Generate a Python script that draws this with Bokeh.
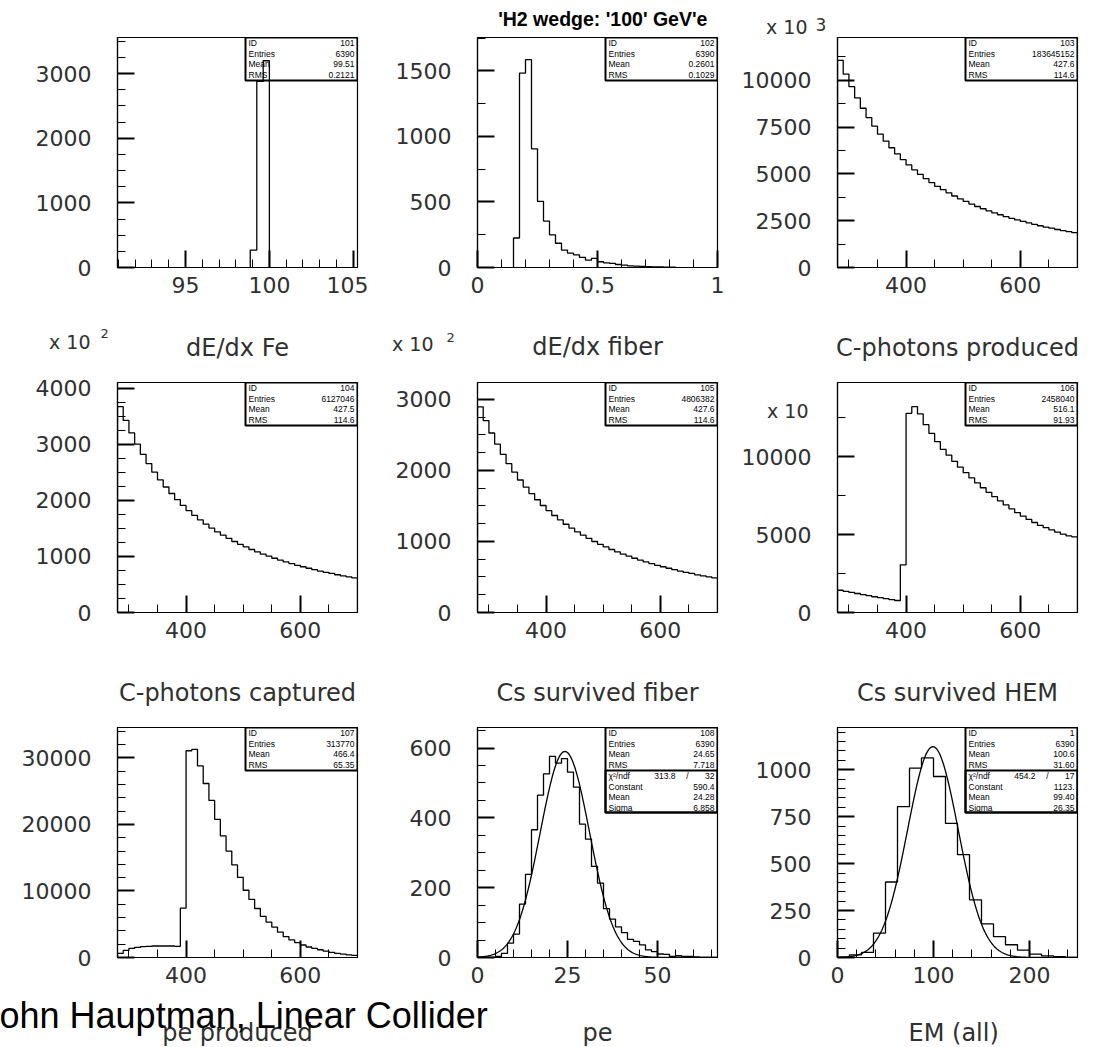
import numpy as np
from bokeh.plotting import figure
from bokeh.models import (Range1d, Label, SingleIntervalTicker, CustomJSTickFormatter,
                          BoxAnnotation)
from bokeh.layouts import row, column
from bokeh.embed import file_html
from bokeh.resources import INLINE

# ------------------------------------------------------------------ data
main_title = "'H2 wedge:  '100' GeV'e"
footer = "John Hauptman, Linear Collider"

titles = ["dE/dx Fe", "dE/dx fiber", "C-photons produced",
          "C-photons captured", "Cs survived fiber", "Cs survived HEM",
          "pe produced", "pe", "EM  (all)"]

# histogram 101 (edges)
h101_edges = [98.86, 99.25, 99.63, 100.0]
h101_counts = [270, 2880, 3200]

# histogram 102 : bins of 0.025 starting at 0.15
h102_lo, h102_w = 0.15, 0.025
h102_counts = [225, 1482, 1585, 905, 505, 354, 249, 185, 133, 110, 97, 77, 56, 69,
               44, 36, 31, 23, 18, 13, 10, 8, 7, 5, 4, 3, 2]

# wavelength histograms : bins of 10 from 280 to 700
wl_lo, wl_w = 280, 10
h103_counts = [11070, 10330, 9660, 9060, 8510, 8010, 7550, 7130, 6750, 6400, 6070, 5760,
               5480, 5220, 4980, 4750, 4540, 4340, 4160, 3990, 3820, 3670, 3530, 3390,
               3260, 3140, 3030, 2920, 2820, 2720, 2630, 2540, 2460, 2380, 2300, 2230,
               2160, 2100, 2030, 1970, 1920, 1860]            # x 10^3
h104_counts = [3675, 3429, 3207, 3008, 2825, 2659, 2506, 2367, 2241, 2125, 2015, 1912,
               1819, 1733, 1653, 1577, 1507, 1441, 1381, 1325, 1268, 1218, 1172, 1125,
               1082, 1042, 1006, 969, 936, 903, 873, 843, 817, 790, 764, 740, 717, 697,
               674, 654, 637, 617]                              # x 10^2
h105_counts = [2897, 2703, 2528, 2371, 2227, 2096, 1976, 1866, 1766, 1675, 1588, 1507,
               1434, 1366, 1303, 1243, 1188, 1136, 1089, 1044, 1000, 960, 924, 887, 853,
               822, 793, 764, 738, 712, 688, 665, 644, 623, 603, 584, 565, 550, 531, 516,
               503, 487]                                        # x 10^2
h106_counts = [1430, 1360, 1290, 1220, 1150, 1080, 1010, 950, 890, 830, 770, 3060,
               12790, 13220, 12750, 12060, 11500, 10970, 10480, 10100, 9700, 9330, 8980,
               8640, 8320, 8010, 7720, 7440, 7170, 6910, 6660, 6420, 6190, 5980, 5780,
               5590, 5450, 5300, 5160, 5030, 4920, 4860]        # x 10
h107_counts = [609, 1066, 1371, 1523, 1624, 1675, 1726, 1726, 1726, 1726, 1675, 7411,
               31066, 31269, 28782, 26142, 23604, 20761, 18274, 15990, 13909, 12030,
               10102, 8731, 7360, 6193, 5330, 4569, 3807, 3147, 2640, 2234, 1878, 1574,
               1371, 1168, 964, 761, 609, 508, 406, 305]

# histogram 108 : 40 bins from 0 to 66.67
h108_lo, h108_w = 0.0, 200.0 / 3 / 40
h108_counts = [0, 0, 0, 3, 12, 41, 67, 153, 238, 366, 465, 526, 576, 557, 570, 531, 488,
               382, 339, 261, 213, 140, 110, 88, 71, 52, 46, 36, 22, 17, 10, 9, 3, 5, 3,
               3, 2, 0, 0, 0]
h108_fit = dict(constant=590.4, mean=24.28, sigma=6.858)

# histogram 1 : 20 bins from 0 to 250
h1_lo, h1_w = 0.0, 12.5
h1_counts = [0, 14, 27, 130, 402, 804, 1009, 1063, 964, 714, 548, 307, 179, 111, 68, 39,
             18, 9, 4, 0]
h1_fit = dict(constant=1123.0, mean=99.40, sigma=26.35)

stats = {
    101: [("ID", "101"), ("Entries", "6390"), ("Mean", "99.51"), ("RMS", "0.2121")],
    102: [("ID", "102"), ("Entries", "6390"), ("Mean", "0.2601"), ("RMS", "0.1029")],
    103: [("ID", "103"), ("Entries", "183645152"), ("Mean", "427.6"), ("RMS", "114.6")],
    104: [("ID", "104"), ("Entries", "6127046"), ("Mean", "427.5"), ("RMS", "114.6")],
    105: [("ID", "105"), ("Entries", "4806382"), ("Mean", "427.6"), ("RMS", "114.6")],
    106: [("ID", "106"), ("Entries", "2458040"), ("Mean", "516.1"), ("RMS", "91.93")],
    107: [("ID", "107"), ("Entries", "313770"), ("Mean", "466.4"), ("RMS", "65.35")],
    108: [("ID", "108"), ("Entries", "6390"), ("Mean", "24.65"), ("RMS", "7.718")],
    1:   [("ID", "1"), ("Entries", "6390"), ("Mean", "100.6"), ("RMS", "31.60")],
}
fit_stats = {
    108: [("χ²/ndf", "313.8", "32"), ("Constant", "590.4"), ("Mean", "24.28"), ("Sigma", "6.858")],
    1:   [("χ²/ndf", "454.2", "17"), ("Constant", "1123."), ("Mean", "99.40"), ("Sigma", "26.35")],
}

# ------------------------------------------------------------------ style
FONT = "DejaVu Sans"
SANS = "Liberation Sans"
TXT = "#303030"
FW, FH = 240, 230
PAGE_W, GRID_H, PAGE_H = 1088, 1046, 1047
Y_FIX = -7   # measured offset of the page layer's text baseline


def uniform_edges(lo, w, n):
    return [lo + w * i for i in range(n + 1)]


def px2x(p, px):
    return p.x_range.start + px * (p.x_range.end - p.x_range.start) / FW


def py2y(p, py):
    return p.y_range.end - py * (p.y_range.end - p.y_range.start) / FH


def text(p, px, py, s, size, align="left", font=SANS, color="black"):
    p.add_layout(Label(x=px2x(p, px), y=py2y(p, py), text=s, text_font=font,
                       text_font_size=f"{size}px", text_align=align,
                       text_baseline="middle", text_color=color))


def box(p, l, r, t, b):
    p.add_layout(BoxAnnotation(left=px2x(p, l), right=px2x(p, r), top=py2y(p, t),
                               bottom=py2y(p, b), fill_color=None, fill_alpha=0,
                               line_color="black", line_width=2, line_alpha=1))


fmt = CustomJSTickFormatter(code="return String(Math.round(tick*1000)/1000);")


def panel(xr, yr, xt, yt, left_b, top_b, bot_b):
    p = figure(frame_width=FW, frame_height=FH, x_range=Range1d(*xr), y_range=Range1d(*yr),
               output_backend="svg", toolbar_location=None, title=None,
               min_border_left=left_b, min_border_right=11, min_border_top=top_b,
               min_border_bottom=bot_b, background_fill_color="white",
               border_fill_color="white")
    p.grid.visible = False
    p.outline_line_color = "black"
    p.outline_line_width = 1.2
    p.xaxis.ticker = SingleIntervalTicker(interval=xt[0], num_minor_ticks=xt[1])
    p.yaxis.ticker = SingleIntervalTicker(interval=yt[0], num_minor_ticks=yt[1])
    for ax in (p.xaxis[0], p.yaxis[0]):
        ax.formatter = fmt
        ax.major_tick_in = 17
        ax.major_tick_out = 0
        ax.minor_tick_in = 8
        ax.minor_tick_out = 0
        ax.axis_line_width = 1.2
        ax.axis_line_color = "black"
        ax.major_tick_line_width = 2
        ax.major_tick_line_color = "black"
        ax.minor_tick_line_width = 1
        ax.minor_tick_line_color = "black"
        ax.major_label_text_font = FONT
        ax.major_label_text_font_size = "22px"
        ax.major_label_text_color = TXT
    p.yaxis.major_label_standoff = 26
    p.xaxis.major_label_standoff = 9
    return p


def hist(p, edges, counts):
    xs = [edges[0]] + list(edges)
    ys = [0] + list(counts) + [0]
    p.step(xs, ys, mode="after", line_color="black", line_width=1.3)


def gauss(p, fit):
    x = np.linspace(p.x_range.start, p.x_range.end, 300)
    y = fit["constant"] * np.exp(-0.5 * ((x - fit["mean"]) / fit["sigma"]) ** 2)
    p.line(x, y, line_color="black", line_width=1.3)


def stats_box(p, hid):
    W = 112
    left = FW - W
    for i, (k, v) in enumerate(stats[hid]):
        yc = 5.5 + 10.5 * i
        text(p, left + 3, yc, k, 8.5)
        text(p, FW - 3, yc, v, 8.5, align="right")
    if hid in fit_stats:
        box(p, left, FW, 0, 85)
        box(p, left, FW, 43, 85)
        for i, r in enumerate(fit_stats[hid]):
            yc = 48.5 + 10.5 * i
            text(p, left + 3, yc, r[0], 8.5)
            if len(r) == 3:
                text(p, left + 70, yc, r[1], 8.5, align="right")
                text(p, left + 82, yc, "/", 8.5, align="center")
                text(p, FW - 3, yc, r[2], 8.5, align="right")
            else:
                text(p, FW - 3, yc, r[1], 8.5, align="right")
    else:
        box(p, left, FW, 0, 43)


# borders: (top, bottom) per row, left per column
R1, R2, R3 = (37, 99), (16, 99), (16, 89)
L1, L2 = 117, 109

# ---------------- row 1
p1 = panel((90.95, 105.25), (0, 3560), (5, 5), (1000, 4), L1, *R1)
hist(p1, h101_edges, h101_counts)
stats_box(p1, 101)

p2 = panel((0, 1), (0, 1754), (0.5, 5), (500, 2), L2, *R1)
hist(p2, uniform_edges(h102_lo, h102_w, len(h102_counts)), h102_counts)
stats_box(p2, 102)

p3 = panel((280, 700), (0, 12290), (200, 4), (2500, 2), L2, *R1)
hist(p3, uniform_edges(wl_lo, wl_w, len(h103_counts)), h103_counts)
stats_box(p3, 103)

# ---------------- row 2
p4 = panel((280, 700), (0, 4107), (200, 4), (1000, 4), L1, *R2)
hist(p4, uniform_edges(wl_lo, wl_w, len(h104_counts)), h104_counts)
stats_box(p4, 104)

p5 = panel((280, 700), (0, 3239), (200, 4), (1000, 4), L2, *R2)
hist(p5, uniform_edges(wl_lo, wl_w, len(h105_counts)), h105_counts)
stats_box(p5, 105)

p6 = panel((280, 700), (0, 14770), (200, 4), (5000, 2), L2, *R2)
hist(p6, uniform_edges(wl_lo, wl_w, len(h106_counts)), h106_counts)
stats_box(p6, 106)

# ---------------- row 3
p7 = panel((280, 700), (0, 34560), (200, 4), (10000, 5), L1, *R3)
hist(p7, uniform_edges(wl_lo, wl_w, len(h107_counts)), h107_counts)
stats_box(p7, 107)

p8 = panel((0, 200.0 / 3), (0, 659), (25, 5), (200, 4), L2, *R3)
hist(p8, uniform_edges(h108_lo, h108_w, len(h108_counts)), h108_counts)
gauss(p8, h108_fit)
stats_box(p8, 108)

p9 = panel((0, 250), (0, 1225), (100, 5), (250, 5), L2, *R3)
hist(p9, uniform_edges(h1_lo, h1_w, len(h1_counts)), h1_counts)
gauss(p9, h1_fit)
stats_box(p9, 1)

grid = column(row(p1, p2, p3), row(p4, p5, p6), row(p7, p8, p9))

# ---------------- transparent page layer for the free texts (page pixels, y down)
ov = figure(width=PAGE_W, height=PAGE_H, x_range=Range1d(0, PAGE_W),
            y_range=Range1d(PAGE_H, 0), output_backend="svg", toolbar_location=None,
            title=None, min_border=0, x_axis_location=None, y_axis_location=None,
            background_fill_color=None, border_fill_color=None, outline_line_color=None)
for g in ov.grid:
    g.visible = False
ov.margin = (-GRID_H, 0, 0, 0)


def page_text(x, y, s, size, align="left", font=FONT, style="normal", color=TXT):
    ov.add_layout(Label(x=x, y=y + Y_FIX, text=s, text_font=font,
                        text_font_size=f"{size}px", text_align=align,
                        text_baseline="alphabetic", text_font_style=style,
                        text_color=color))


page_text(605, 25, main_title, 19.5, "center", font=SANS, style="bold", color="black")

title_pos = [(237, 354), (597, 353), (957, 354),
             (237, 699), (597, 699), (957, 699),
             (237, 1039), (597, 1039), (957, 1039)]
for (x, y), t in zip(title_pos, titles):
    page_text(x, y, t, 24, "center")

# axis multipliers: right end of "x 10", baseline, exponent, its x, baseline and size
multipliers = [(807, 33, "3", 815, 31, 17),
               (90, 348, "2", 100, 340, 13),
               (433, 350, "2", 446, 344, 13),
               (808, 417, "", 0, 0, 0)]
for xe, yb, e, ex, ey, es in multipliers:
    page_text(xe, yb, "x 10", 19, "right")
    if e:
        page_text(ex, ey, e, es)

page_text(-19, 1022, footer, 36, font=SANS, color="black")

layout = column(grid, ov)
open("out.html", "w").write(file_html(layout, INLINE))
